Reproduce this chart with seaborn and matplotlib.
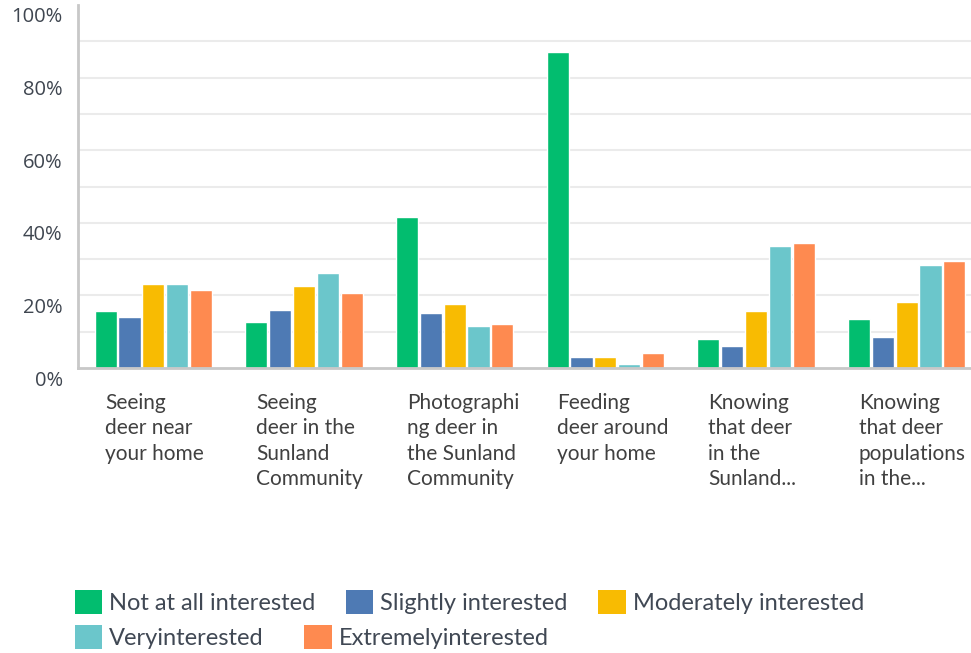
import numpy as np
import pandas as pd
import seaborn as sns
import matplotlib
matplotlib.use('Agg')
import matplotlib.pyplot as plt
import matplotlib.patches as mpatches
from matplotlib.transforms import ScaledTranslation

activities = ['Seeing\ndeer near\nyour home',
              'Seeing\ndeer in the\nSunland\nCommunity',
              'Photographi\nng deer in\nthe Sunland\nCommunity',
              'Feeding\ndeer around\nyour home',
              'Knowing\nthat deer\nin the\nSunland...',
              'Knowing\nthat deer\npopulations\nin the...']
levels = ['Not at all interested', 'Slightly interested', 'Moderately interested',
          'Veryinterested', 'Extremelyinterested']

# percent of respondents
not_at_all = [15.8, 12.8, 41.7, 87.1, 8.1, 13.6]
slightly = [14.1, 16.1, 15.2, 3.1, 6.1, 8.6]
moderately = [23.2, 22.7, 17.7, 3.1, 15.8, 18.3]
very = [23.2, 26.3, 11.7, 1.2, 33.7, 28.3]
extremely = [21.6, 20.7, 12.2, 4.2, 34.5, 29.6]

colors = ['#02BD6F', '#4E7AB4', '#F8BB02', '#6BC6CB', '#FE8A50']

series = [not_at_all, slightly, moderately, very, extremely]
rows = []
for lvl, vals in zip(levels, series):
    for act, v in zip(activities, vals):
        rows.append({'activity': act, 'level': lvl, 'value': v})
df = pd.DataFrame(rows)

sns.set_style('white')
plt.rcParams['font.family'] = ['Lato', 'DejaVu Sans']

fig = plt.figure(figsize=(9.71, 6.53), dpi=100)
ax = fig.add_axes([78 / 971, 1 - 368 / 653, 904 / 971, 363 / 653])

sns.barplot(data=df, x='activity', y='value', hue='level', order=activities,
            hue_order=levels, palette=colors, width=0.79, gap=0.07,
            saturation=1, legend=False, ax=ax)

ax.set_ylim(0, 100)
ax.set_xlabel('')
ax.set_ylabel('')

# grid every 10%, labels every 20%
ax.set_yticks(np.arange(0, 101, 20))
ax.set_yticks(np.arange(10, 100, 10), minor=True)
ax.yaxis.remove_overlapping_locs = False
ax.set_yticklabels([f'{v}%' for v in range(0, 101, 20)])
ax.yaxis.grid(True, which='minor', color='#EBEBEB', linewidth=1.5)
ax.yaxis.grid(False, which='major')
ax.set_axisbelow(True)
ax.tick_params(axis='y', which='both', length=0, pad=11, labelsize=14.5,
               labelcolor='#3F4650')
for lab in ax.get_yticklabels():
    lab.set_fontfamily(['Open Sans', 'DejaVu Sans'])
    lab.set_transform(lab.get_transform() + ScaledTranslation(0, -10 / 100, fig.dpi_scale_trans))

ax.tick_params(axis='x', length=0, pad=18, labelsize=15, labelcolor='#404040')
for lab in ax.get_xticklabels():
    lab.set_horizontalalignment('left')
    lab.set_verticalalignment('top')
    lab.set_linespacing(1.34)
    lab.set_transform(lab.get_transform() + ScaledTranslation(-48 / 100, 0, fig.dpi_scale_trans))

for side in ['top', 'right']:
    ax.spines[side].set_visible(False)
for side in ['left', 'bottom']:
    ax.spines[side].set_color('#C8C8C8')
    ax.spines[side].set_linewidth(2)

handles = [mpatches.Patch(facecolor=c, edgecolor='none') for c in colors]
leg_kw = dict(frameon=False, fontsize=17, handlelength=1.15, handleheight=1.19,
              handletextpad=0.3, borderpad=0, borderaxespad=0,
              labelcolor='#404854', loc='upper left')
leg1 = fig.legend(handles[:3], levels[:3], ncol=3, columnspacing=1.3,
                  bbox_to_anchor=(75 / 971, 1 - 590 / 653), **leg_kw)
leg2 = fig.legend(handles[3:], levels[3:], ncol=2, columnspacing=1.72,
                  bbox_to_anchor=(75 / 971, 1 - 625 / 653), **leg_kw)

plt.savefig('out.png', dpi=100)
